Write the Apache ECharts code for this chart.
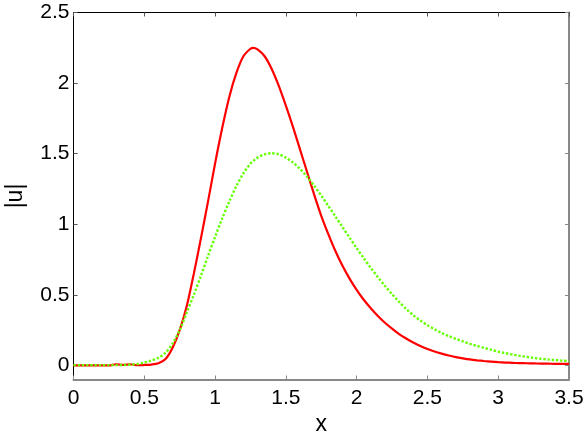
<!DOCTYPE html>
<html>
<head>
<meta charset="utf-8">
<script src="https://cdn.jsdelivr.net/npm/echarts@6/dist/echarts.min.js"></script>
<style>
  html, body { margin: 0; padding: 0; background: #fff; }
  #chart { width: 584px; height: 439px; }
</style>
</head>
<body>
<div id="chart"></div>
<script>
// x 采样点 (0 ~ 3.5, 步长 0.05, 峰值处多取一点 1.27)
const xs = [
  0, 0.05, 0.1, 0.15, 0.2, 0.25, 0.3, 0.35, 0.4, 0.45,
  0.5, 0.55, 0.6, 0.65, 0.7, 0.75, 0.8, 0.85, 0.9, 0.95,
  1.0, 1.05, 1.1, 1.15, 1.2, 1.25, 1.27, 1.3, 1.35, 1.4, 1.45,
  1.5, 1.55, 1.6, 1.65, 1.7, 1.75, 1.8, 1.85, 1.9, 1.95,
  2.0, 2.05, 2.1, 2.15, 2.2, 2.25, 2.3, 2.35, 2.4, 2.45,
  2.5, 2.55, 2.6, 2.65, 2.7, 2.75, 2.8, 2.85, 2.9, 2.95,
  3.0, 3.05, 3.1, 3.15, 3.2, 3.25, 3.3, 3.35, 3.4, 3.45, 3.5
];
// 红色实线 |u|
const redU = [
  0, 0, 0, 0, 0, 0, 0.008, 0.003, 0.008, 0.001,
  0.003, 0.006, 0.015, 0.045, 0.125, 0.25, 0.42, 0.65, 0.9, 1.16,
  1.43, 1.68, 1.9, 2.07, 2.19, 2.243, 2.25, 2.238, 2.19, 2.1, 1.98,
  1.84, 1.69, 1.53, 1.37, 1.21, 1.06, 0.93, 0.81, 0.705, 0.615,
  0.535, 0.465, 0.405, 0.35, 0.302, 0.26, 0.222, 0.19, 0.162, 0.137,
  0.116, 0.098, 0.083, 0.07, 0.059, 0.05, 0.042, 0.036, 0.031, 0.027,
  0.023, 0.02, 0.018, 0.016, 0.015, 0.014, 0.013, 0.012, 0.011, 0.01, 0.01
];
// 绿色点线 |u|
const greenU = [
  0.002, 0.002, 0.002, 0.002, 0.002, 0.002, 0.002, 0.003, 0.005, 0.01,
  0.02, 0.035, 0.055, 0.09, 0.155, 0.25, 0.375, 0.5, 0.635, 0.775,
  0.91, 1.04, 1.16, 1.27, 1.36, 1.43, 1.448, 1.472, 1.495, 1.503, 1.495,
  1.472, 1.437, 1.392, 1.337, 1.272, 1.203, 1.13, 1.055, 0.98, 0.905,
  0.83, 0.76, 0.69, 0.625, 0.563, 0.505, 0.45, 0.4, 0.355, 0.318,
  0.285, 0.256, 0.23, 0.208, 0.188, 0.17, 0.153, 0.138, 0.124, 0.111,
  0.097, 0.087, 0.077, 0.068, 0.06, 0.053, 0.047, 0.042, 0.038, 0.034, 0.031
];
// 刻度
const xTicks = [0, 0.5, 1, 1.5, 2, 2.5, 3, 3.5];
const yTicks = [0, 0.5, 1, 1.5, 2, 2.5];

const font = 'Liberation Sans, Arial, Helvetica, sans-serif';
const chart = echarts.init(document.getElementById('chart'), null, {renderer: 'canvas'});

const pair = (ys) => xs.map((x, i) => [x, ys[i]]);

const option = {
  animation: false,
  backgroundColor: '#fff',
  grid: {left: 73.5, right: 15, top: 12.5, bottom: 59.5, containLabel: false, outerBoundsMode: 'none'},
  xAxis: [
    {
      type: 'value', position: 'bottom', min: 0, max: 3.5,
      name: 'x', nameLocation: 'middle', nameGap: 33,
      nameTextStyle: {fontFamily: font, fontSize: 23, color: '#000'},
      axisLine: {show: true, onZero: false, lineStyle: {color: '#888', width: 2}},
      axisTick: {show: true, inside: true, length: 4, customValues: xTicks, lineStyle: {color: '#888'}},
      axisLabel: {show: true, margin: 8, customValues: xTicks, fontFamily: font, fontSize: 21, color: '#000',
        formatter: v => String(v)},
      splitLine: {show: false}
    },
    {
      type: 'value', position: 'top', min: 0, max: 3.5,
      axisLine: {show: true, onZero: false, lineStyle: {color: '#000', width: 1}},
      axisTick: {show: true, inside: true, length: 4, customValues: xTicks, lineStyle: {color: '#555'}},
      axisLabel: {show: false},
      splitLine: {show: false}
    }
  ],
  yAxis: [
    {
      type: 'value', position: 'left', min: -0.1, max: 2.5,
      name: '|u|', nameLocation: 'middle', nameGap: 46, nameRotate: 90,
      nameTextStyle: {fontFamily: font, fontSize: 23, color: '#000'},
      axisLine: {show: true, onZero: false, lineStyle: {color: '#000', width: 1}},
      axisTick: {show: true, inside: true, length: 4, customValues: yTicks, lineStyle: {color: '#555'}},
      axisLabel: {show: true, margin: 4, customValues: yTicks, fontFamily: font, fontSize: 21, color: '#000',
        formatter: v => String(v)},
      splitLine: {show: false}
    },
    {
      type: 'value', position: 'right', min: -0.1, max: 2.5,
      axisLine: {show: true, onZero: false, lineStyle: {color: '#888', width: 2}},
      axisTick: {show: true, inside: true, length: 4, customValues: yTicks, lineStyle: {color: '#888'}},
      axisLabel: {show: false},
      splitLine: {show: false}
    }
  ],
  series: [
    {
      type: 'line', name: 'red', data: pair(redU),
      xAxisIndex: 0, yAxisIndex: 0,
      smooth: 0.3, showSymbol: false, symbol: 'none',
      lineStyle: {color: '#ff0000', width: 2.2}
    },
    {
      type: 'line', name: 'green', data: pair(greenU),
      xAxisIndex: 0, yAxisIndex: 0,
      smooth: 0.3, showSymbol: false, symbol: 'none',
      lineStyle: {color: '#66ff00', width: 2.4, type: [2.4, 1.8]}
    }
  ]
};
chart.setOption(option);
</script>
</body>
</html>
